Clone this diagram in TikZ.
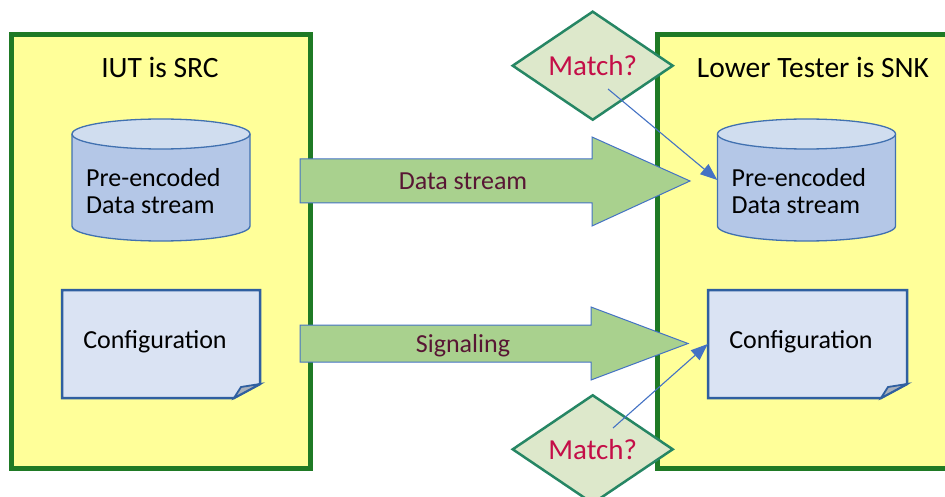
\documentclass[tikz,border=0pt]{standalone}
\usepackage{fontspec}
\setmainfont{Carlito}
\usetikzlibrary{shapes.geometric,arrows.meta}
\definecolor{boxyellow}{HTML}{FFFF99}
\definecolor{boxgreen}{RGB}{31,122,37}
\definecolor{cylbody}{HTML}{B4C7E7}
\definecolor{cyltop}{HTML}{D0DDEF}
\definecolor{cylline}{RGB}{65,113,176}
\definecolor{docfill}{HTML}{DAE3F3}
\definecolor{docline}{RGB}{47,95,160}
\definecolor{foldfill}{HTML}{A8B0BC}
\definecolor{arrfill}{HTML}{A9D18E}
\definecolor{arrline}{HTML}{4472C4}
\definecolor{labcol}{RGB}{88,22,52}
\definecolor{diafill}{HTML}{DDE8CB}
\definecolor{dialine}{RGB}{38,134,100}
\definecolor{matchcol}{RGB}{196,14,72}
\tikzset{
  panel/.style={draw=boxgreen, fill=boxyellow, line width=5pt, inner sep=0pt},
  titletext/.style={font=\fontsize{29.5}{35}\selectfont, text=black, inner sep=0pt},
  bodytext/.style={font=\fontsize{26}{27}\selectfont, text=black, inner sep=0pt},
  cylshape/.style={draw=cylline, line width=1.3pt},
  docshape/.style={draw=docline, fill=docfill, line width=2.5pt, line join=miter},
  bigarrow/.style={draw=arrline, fill=arrfill, line width=1pt, line join=miter},
  arrlabel/.style={font=\fontsize{26}{30}\selectfont, text=labcol, inner sep=0pt},
  matchbox/.style={diamond, draw=dialine, fill=diafill, line width=2.5pt, inner sep=0pt,
    minimum width=161pt, minimum height=108pt, text=matchcol, font=\fontsize{29}{34}\selectfont},
  anchorbox/.style={inner sep=0pt, draw=none},
  conn/.style={draw=arrline, line width=1.1pt, -{Triangle[length=17pt,width=13pt]}}
}
\begin{document}
\begin{tikzpicture}[x=1pt,y=-1pt]
\clip (0,0) rectangle (945,497);
\fill[white] (0,0) rectangle (945,497);
% panels
\node[panel, minimum width=299.5pt, minimum height=433pt] (boxL) at (160.75,251.5) {};
\node[panel, minimum width=302.5pt, minimum height=433pt] (boxR) at (808.75,251.5) {};
\node[titletext, anchor=base] (tL) at (160,78) {IUT is SRC};
\node[titletext, anchor=base] (tR) at (813,78) {Lower Tester is SNK};
% cylinders
\fill[cylbody] (72,134) -- (72,226) arc[start angle=180, end angle=0, x radius=89, y radius=15] -- (250,134) -- cycle;
\draw[cylshape] (72,134) -- (72,226) arc[start angle=180, end angle=0, x radius=89, y radius=15] -- (250,134);
\draw[cylshape, fill=cyltop] (161,134) ellipse [x radius=89, y radius=15];
\node[anchorbox, minimum width=178pt, minimum height=122pt] (cylL) at (161,180) {};
\node[bodytext, anchor=base west, align=left] (cylLtext) at (86,214) {Pre-encoded\\Data stream};
\fill[cylbody] (717.5,134) -- (717.5,226) arc[start angle=180, end angle=0, x radius=89, y radius=15] -- (895.5,134) -- cycle;
\draw[cylshape] (717.5,134) -- (717.5,226) arc[start angle=180, end angle=0, x radius=89, y radius=15] -- (895.5,134);
\draw[cylshape, fill=cyltop] (806.5,134) ellipse [x radius=89, y radius=15];
\node[anchorbox, minimum width=178pt, minimum height=122pt] (cylR) at (806.5,180) {};
\node[bodytext, anchor=base west, align=left] (cylRtext) at (731.5,214) {Pre-encoded\\Data stream};
% documents
\draw[docshape] (62,290) -- (260,290) -- (260,384) -- (234,398) -- (62,398) -- cycle;
\draw[docshape, fill=foldfill, line width=1.8pt] (260,384) -- (241,387) -- (234,398) -- cycle;
\node[anchorbox, minimum width=198pt, minimum height=108pt] (cfgL) at (161,344) {};
\node[bodytext, anchor=base] (cfgLtext) at (155,348) {Configuration};
\draw[docshape] (708,290) -- (907,290) -- (907,384) -- (881,398) -- (708,398) -- cycle;
\draw[docshape, fill=foldfill, line width=1.8pt] (907,384) -- (888,387) -- (881,398) -- cycle;
\node[anchorbox, minimum width=199pt, minimum height=108pt] (cfgR) at (807.5,344) {};
\node[bodytext, anchor=base] (cfgRtext) at (801,348) {Configuration};
% big arrows
\draw[bigarrow] (300,159) -- (592,159) -- (592,137) -- (690,181) -- (592,226) -- (592,203) -- (300,203) -- cycle;
\node[arrlabel, anchor=base] (dslabel) at (463,190) {Data stream};
\draw[bigarrow] (300,325) -- (591,325) -- (591,307) -- (688,343.5) -- (591,380) -- (591,362) -- (300,362) -- cycle;
\node[arrlabel, anchor=base] (siglabel) at (463,352) {Signaling};
% diamonds
\node[matchbox] (matchT) at (592.7,65.7) {Match?};
\node[matchbox] (matchB) at (592.7,449.3) {Match?};
% connectors
\coordinate (mT) at (608,89);
\coordinate (mB) at (613,428);
\coordinate (cylRw) at (cylR.west);
\draw[conn] (mT) -- (cylRw);
\draw[conn] (mB) -- (cfgR.west);
\end{tikzpicture}
\end{document}
